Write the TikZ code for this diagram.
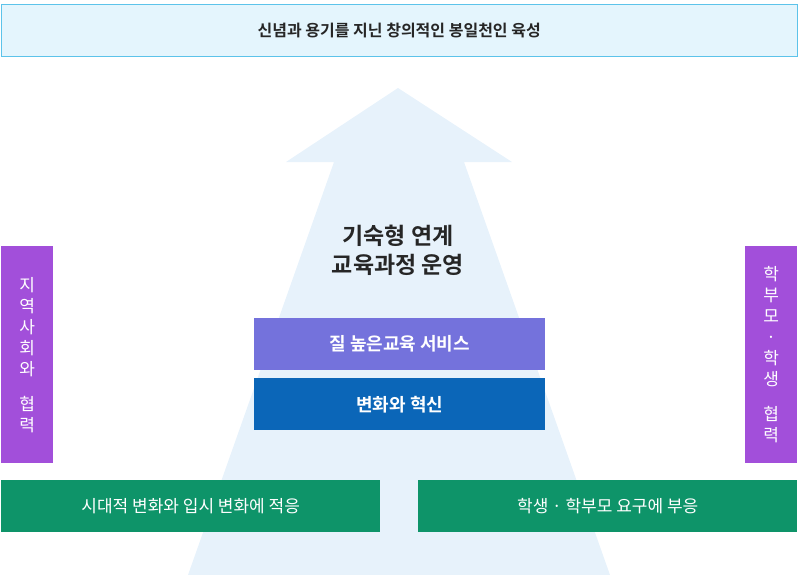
\documentclass[tikz,border=0pt]{standalone}
\usepackage{fontspec}
\setmainfont{Noto Sans CJK KR}
\newfontfamily\krb{Noto Sans CJK KR Bold}
\definecolor{topfill}{HTML}{E4F5FD}
\definecolor{topline}{HTML}{5CC3EA}
\definecolor{arrowc}{HTML}{E7F2FB}
\definecolor{purp}{HTML}{7472DC}
\definecolor{bluec}{HTML}{0B66B8}
\definecolor{vio}{HTML}{A24FDA}
\definecolor{grn}{HTML}{0E9469}
\begin{document}
\begin{tikzpicture}[x=1pt,y=-1pt,
  bx/.style={draw=none,inner sep=0,text=white,font=\fontsize{17}{20}\selectfont},
  vt/.style={draw=none,inner sep=0,text=white,font=\fontsize{17}{21}\selectfont,align=center}]
\useasboundingbox (0,0) rectangle (803,575);
\fill[arrowc] (398,88) -- (512,162) -- (464,162) -- (610,575) -- (188,575) -- (334,162) -- (286,162) -- cycle;
\node[draw=topline,fill=topfill,minimum width=796,minimum height=52,anchor=north west,font=\krb\fontsize{16}{18}\selectfont,text=black!85] (top) at (1,4) {신념과 용기를 지닌 창의적인 봉일천인 육성};
\node[align=center,font=\krb\fontsize{23}{29}\selectfont,text=black!85] (mid) at (398,250) {기숙형 연계\\교육과정 운영};
\node[bx,fill=purp,minimum width=291,minimum height=52,anchor=north west,font=\krb\fontsize{18}{20}\selectfont] (q) at (254,318) {질 높은교육 서비스};
\node[bx,fill=bluec,minimum width=291,minimum height=52,anchor=north west,font=\krb\fontsize{18}{20}\selectfont] (c) at (254,378) {변화와 혁신};
\node[vt,fill=vio,minimum width=52,minimum height=217,anchor=north west] (l) at (1,246) {지\\역\\사\\회\\와\\[14pt]협\\력};
\node[vt,fill=vio,minimum width=52,minimum height=217,anchor=north west] (r) at (745,246) {학\\부\\모\\·\\학\\생\\[14pt]협\\력};
\node[bx,fill=grn,minimum width=379,minimum height=52,anchor=north west] (g1) at (1,480) {시대적 변화와 입시 변화에 적응};
\node[bx,fill=grn,minimum width=379,minimum height=52,anchor=north west] (g2) at (418,480) {학생 · 학부모 요구에 부응};
\end{tikzpicture}
\end{document}
